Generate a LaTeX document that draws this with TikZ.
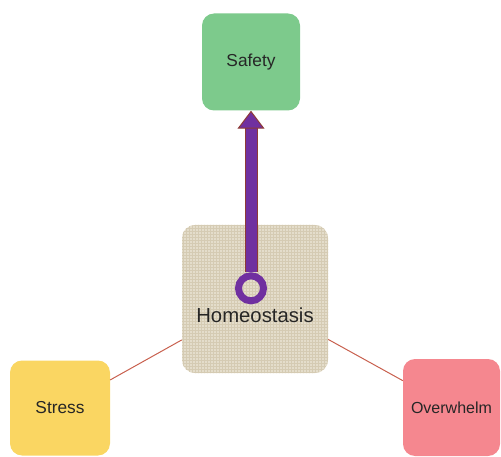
\documentclass[tikz,border=0pt]{standalone}
\usepackage{fontspec}
\setmainfont{Liberation Sans}
\usepackage{tikz}
\usetikzlibrary{arrows,arrows.meta,positioning,patterns}
\definecolor{safe}{HTML}{7DCA8C}
\definecolor{stre}{HTML}{FAD662}
\definecolor{over}{HTML}{F5878F}
\definecolor{homeo}{HTML}{E4DDCB}
\definecolor{weave}{HTML}{D5CBB3}
\definecolor{purp}{HTML}{7030A0}
\definecolor{rim}{HTML}{8E3A36}
\definecolor{link}{HTML}{C8604E}
\definecolor{txt}{HTML}{262626}

\begin{document}
\begin{tikzpicture}[x=1pt,y=1pt,
		card/.style={inner sep=3pt,rounded corners=12pt,text=txt,font=\fontsize{17.3}{20}\selectfont}]
		\useasboundingbox (0,0) rectangle (501,456);
		%中心方块与四周方块
		\node (H) [minimum width=146pt,minimum height=148pt,inner sep=0pt,rounded corners=13pt,fill=homeo,postaction={pattern=grid,pattern color=weave},
			label={[text=txt,font=\fontsize{20.3}{24}\selectfont,yshift=-16pt]center:Homeostasis}] at (255,157) {};
		\node (S) [card,fill=safe,minimum width=98pt,minimum height=97pt,above of=H,node distance=237pt,xshift=-4pt] {Safety};
		\node (St) [card,fill=stre,minimum width=100pt,minimum height=95pt,below of=H,node distance=109pt,xshift=-195pt] {Stress};
		\node (Ov) [card,fill=over,minimum width=97pt,minimum height=97pt,below of=H,node distance=108.5pt,xshift=196.5pt,font=\fontsize{16}{20}\selectfont] {Overwhelm};
		\node (O) [circle,draw=purp,line width=7pt,minimum size=25pt,inner sep=0pt,above of=H,node distance=10.7pt,xshift=-4pt] {};
		
		%连接线
		\draw[link,line width=1pt] (St) -- (H);
		\draw[link,line width=1pt] (H) -- (Ov);
		\draw[draw=rim,line width=1pt,double=purp,double distance=11pt,
			arrows={-Triangle[width=27pt,length=18pt,line width=1pt,fill=purp,color=rim]}] (O) -- (S);
	\end{tikzpicture}
\end{document}
